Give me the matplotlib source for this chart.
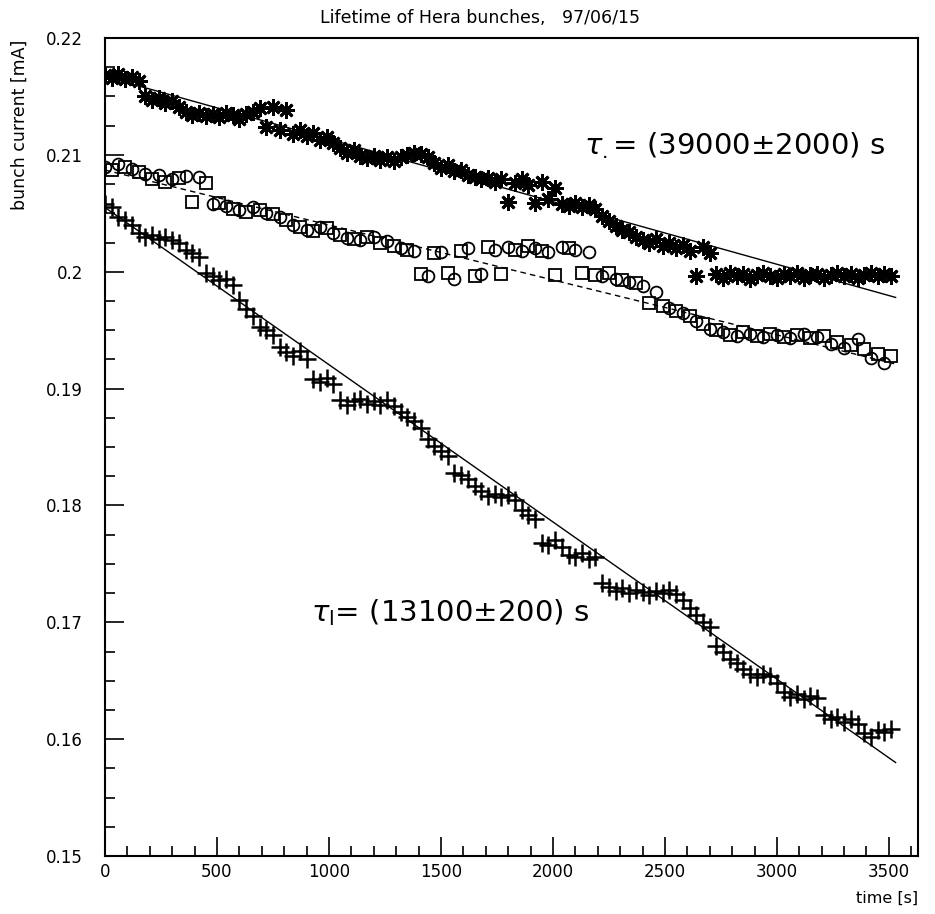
import numpy as np
import matplotlib
matplotlib.use("Agg")
import matplotlib.pyplot as plt
from matplotlib.ticker import MultipleLocator, FuncFormatter

# time axis: one reading every 30 s (stars, crosses); circles/squares interleaved every 60 s
t_step = 30
t_end = 3510

# upper bunch (asterisks)
stars = [
    0.2168, 0.2166, 0.2169, 0.2165, 0.2167, 0.2163, 0.2150, 0.2147, 0.2149, 0.2144,
    0.2146, 0.2141, 0.2137, 0.2134, 0.2136, 0.2133, 0.2135, 0.2132, 0.2136, 0.2134,
    0.2131, 0.2135, 0.2137, 0.2140, 0.2124, 0.2141, 0.2121, 0.2138, 0.2118, 0.2121,
    0.2116, 0.2119, 0.2113, 0.2115, 0.2110, 0.2106, 0.2102, 0.2104, 0.2099, 0.2097,
    0.2099, 0.2096, 0.2098, 0.2095, 0.2098, 0.2100, 0.2102, 0.2101, 0.2098, 0.2093,
    0.2089, 0.2091, 0.2086, 0.2087, 0.2083, 0.2081, 0.2079, 0.2080, 0.2077, 0.2079,
    0.2060, 0.2076, 0.2079, 0.2074, 0.2059, 0.2077, 0.2062, 0.2072, 0.2058, 0.2056,
    0.2059, 0.2055, 0.2057, 0.2054, 0.2048, 0.2043, 0.2039, 0.2036, 0.2034, 0.2030,
    0.2027, 0.2025, 0.2028, 0.2022, 0.2025, 0.2020, 0.2023, 0.2018, 0.1996, 0.2021,
    0.2016, 0.1998, 0.1995, 0.1999, 0.1996, 0.1998, 0.1994, 0.1997, 0.1999, 0.1996,
    0.1995, 0.1998, 0.1996, 0.1999, 0.1995, 0.1997, 0.1998, 0.1995, 0.1997, 0.1999,
    0.1996, 0.1998, 0.1995, 0.1997, 0.1999, 0.1996, 0.1998, 0.1996,
]

# lower bunch (crosses)
crosses = [
    0.2058, 0.2055, 0.2047, 0.2044, 0.2040, 0.2033, 0.2030, 0.2031, 0.2028, 0.2030,
    0.2027, 0.2025, 0.2019, 0.2016, 0.2013, 0.1999, 0.1996, 0.1993, 0.1994, 0.1989,
    0.1976, 0.1968, 0.1962, 0.1953, 0.1950, 0.1946, 0.1936, 0.1931, 0.1928, 0.1932,
    0.1925, 0.1908, 0.1906, 0.1909, 0.1904, 0.1890, 0.1886, 0.1889, 0.1891, 0.1887,
    0.1889, 0.1886, 0.1890, 0.1885, 0.1880, 0.1876, 0.1872, 0.1866, 0.1857, 0.1851,
    0.1847, 0.1842, 0.1828, 0.1826, 0.1823, 0.1817, 0.1812, 0.1808, 0.1810, 0.1807,
    0.1809, 0.1805, 0.1796, 0.1792, 0.1788, 0.1768, 0.1766, 0.1770, 0.1764, 0.1758,
    0.1756, 0.1759, 0.1754, 0.1756, 0.1734, 0.1730, 0.1727, 0.1729, 0.1725, 0.1728,
    0.1726, 0.1723, 0.1727, 0.1725, 0.1728, 0.1724, 0.1719, 0.1712, 0.1706, 0.1700,
    0.1696, 0.1680, 0.1675, 0.1669, 0.1665, 0.1660, 0.1656, 0.1653, 0.1656, 0.1654,
    0.1648, 0.1640, 0.1636, 0.1639, 0.1634, 0.1637, 0.1635, 0.1621, 0.1617, 0.1619,
    0.1615, 0.1617, 0.1613, 0.1605, 0.1602, 0.1608, 0.1606, 0.1609,
]

# middle bunch, two monitors: circles at t = 0, 60, ... and squares at t = 30, 90, ...
circles = [
    0.2090, 0.2092, 0.2088, 0.2084, 0.2083, 0.2079, 0.2082, 0.2081, 0.2058, 0.2056,
    0.2053, 0.2055, 0.2050, 0.2047, 0.2040, 0.2036, 0.2038, 0.2033, 0.2029, 0.2027,
    0.2030, 0.2026, 0.2020, 0.2018, 0.1996, 0.2017, 0.1994, 0.2020, 0.1998, 0.2019,
    0.2021, 0.2018, 0.2020, 0.2017, 0.2021, 0.2019, 0.2017, 0.1996, 0.1994, 0.1991,
    0.1988, 0.1983, 0.1969, 0.1965, 0.1958, 0.1951, 0.1948, 0.1945, 0.1947, 0.1944,
    0.1946, 0.1943, 0.1947, 0.1944, 0.1938, 0.1935, 0.1942, 0.1926, 0.1922,
]
squares = [
    0.2087, 0.2090, 0.2085, 0.2079, 0.2077, 0.2080, 0.2060, 0.2076, 0.2059, 0.2054,
    0.2051, 0.2053, 0.2049, 0.2044, 0.2038, 0.2035, 0.2037, 0.2031, 0.2028, 0.2030,
    0.2025, 0.2022, 0.2019, 0.1998, 0.2016, 0.1999, 0.2018, 0.1996, 0.2021, 0.1998,
    0.2019, 0.2022, 0.2018, 0.1997, 0.2020, 0.1999, 0.1997, 0.1999, 0.1993, 0.1990,
    0.1973, 0.1971, 0.1966, 0.1962, 0.1955, 0.1950, 0.1946, 0.1948, 0.1945, 0.1947,
    0.1944, 0.1946, 0.1943, 0.1945, 0.1940, 0.1937, 0.1934, 0.1930, 0.1928,
]

# fitted lines (end points)
fit_t = [0, 3530]
fit_upper = [0.2167, 0.1978]
fit_middle = [0.2087, 0.1921]
fit_lower = [0.2055, 0.1580]

t_all = np.arange(0, t_end + 1, t_step)
t_circ = t_all[0::2]
t_sq = t_all[1::2]

plt.rcParams["font.family"] = ["DejaVu Sans"]
plt.rcParams["mathtext.fontset"] = "dejavusans"

fig = plt.figure(figsize=(9.35, 9.14), dpi=100)
ax = fig.add_axes([105 / 935, 58 / 914, 813 / 935, 818 / 914])

ax.plot(fit_t, fit_upper, color="black", lw=1.0)
ax.plot(fit_t, fit_middle, color="black", lw=1.0, ls=(0, (4, 3)))
ax.plot(fit_t, fit_lower, color="black", lw=1.0)

ax.plot(t_all, stars, ls="none", marker=(8, 2, 0), ms=12, mew=2.0, color="black")
ax.plot(t_circ, circles, ls="none", marker="o", ms=8.5, mew=1.3, mfc="none", color="black")
ax.plot(t_sq, squares, ls="none", marker="s", ms=8.5, mew=1.3, mfc="none", color="black")
ax.plot(t_all, crosses, ls="none", marker="+", ms=13, mew=1.8, color="black")

ax.set_xlim(0, 3630)
ax.set_ylim(0.15, 0.22)

ax.xaxis.set_major_locator(MultipleLocator(500))
ax.xaxis.set_minor_locator(MultipleLocator(100))
ax.yaxis.set_major_locator(MultipleLocator(0.01))
ax.yaxis.set_minor_locator(MultipleLocator(0.0025))
ax.yaxis.set_major_formatter(FuncFormatter(lambda v, p: f"{v:g}"))

ax.tick_params(axis="both", which="both", direction="in", top=False, right=False,
               labelsize=12, width=1.2)
ax.tick_params(axis="both", which="major", length=14)
ax.tick_params(axis="both", which="minor", length=7)
ax.tick_params(axis="y", which="major", pad=16)
ax.tick_params(axis="x", which="major", pad=5)
for s in ax.spines.values():
    s.set_linewidth(1.5)

fig.text(480 / 935, 1 - 18 / 914, "Lifetime of Hera bunches,   97/06/15",
         ha="center", va="center", fontsize=12.5)
fig.text(20 / 935, 1 - 40 / 914, "bunch current [mA]", rotation=90,
         ha="center", va="top", fontsize=12.5)
fig.text(918 / 935, 1 - 898 / 914, "time [s]", ha="right", va="center", fontsize=11.5)

ax.text(2140, 0.2108, r"$\tau_{.}$= (39000$\pm$2000) s", fontsize=21, ha="left",
        va="center", color="black")
ax.text(920, 0.1708, r"$\tau_{\mathrm{l}}$= (13100$\pm$200) s", fontsize=21, ha="left",
        va="center", color="black")

fig.savefig("out.png", dpi=100)
